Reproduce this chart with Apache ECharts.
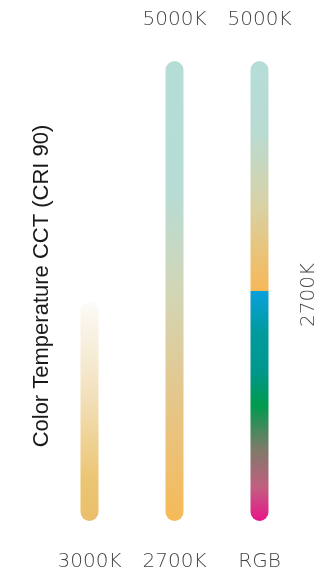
<!DOCTYPE html>
<html>
<head>
<meta charset="utf-8">
<script src="https://cdn.jsdelivr.net/npm/echarts@6/dist/echarts.min.js"></script>
<style>
html,body{margin:0;padding:0;background:#fff;}
#chart{width:324px;height:577px;}
</style>
</head>
<body>
<div id="chart"></div>
<script>
// Data
var categories = ['3000K', '2700K', 'RGB'];
var topLabels = ['', '5000K', '5000K'];
var lowerSegment = [47.6, 100, 50];   // lower part of each bar
var upperSegment = [0, 0, 50];        // upper (2700K→5000K) part of RGB bar
var yAxisTitle = 'Color Temperature CCT (CRI 90)';
var splitLabel = '2700K';

function grad(stops) {
  return new echarts.graphic.LinearGradient(0, 0, 0, 1, stops.map(function (s) { return { offset: s[0], color: s[1] }; }));
}

var lowerStyles = [
  { color: grad([[0, 'rgba(250,244,232,0.3)'], [0.12, '#f9f3e6'], [0.45, '#f2dfb8'], [0.8, '#ebc674'], [1, '#ebbf6a']]), borderRadius: 9 },
  { color: grad([[0, '#b5ddd8'], [0.28, '#b6dcd5'], [0.5, '#d2d6b6'], [0.72, '#e4c78e'], [1, '#f6ba58']]), borderRadius: 9 },
  { color: grad([[0, '#0aa0dc'], [0.18, '#009b9e'], [0.35, '#00978c'], [0.5, '#009a4e'], [0.68, '#7a7c68'], [0.85, '#c0607f'], [1, '#e8168a']]), borderRadius: [0, 0, 9, 9] }
];
var upperStyles = [
  {}, {},
  { color: grad([[0, '#b5ddd8'], [0.3, '#b8dbd3'], [0.62, '#d8d2a6'], [1, '#f6b858']]), borderRadius: [9, 9, 0, 0] }
];

var textFont = { fontFamily: 'DejaVu Sans', fontWeight: 200, fontSize: 20, color: '#454545' };

var chart = echarts.init(document.getElementById('chart'), null, { renderer: 'canvas' });
chart.setOption({
  animation: false,
  grid: { left: 47, right: 22, top: 61, bottom: 56 },
  xAxis: [
    {
      type: 'category', data: categories, position: 'bottom',
      axisLine: { show: false }, axisTick: { show: false },
      axisLabel: Object.assign({ margin: 31 }, textFont)
    },
    {
      type: 'category', data: topLabels, position: 'top',
      axisLine: { show: false }, axisTick: { show: false },
      axisLabel: Object.assign({ margin: 31 }, textFont)
    }
  ],
  yAxis: {
    type: 'value', min: 0, max: 100,
    show: false
  },
  series: [
    {
      type: 'bar', stack: 'a', barWidth: 18,
      data: lowerSegment.map(function (v, i) { return { value: v, itemStyle: lowerStyles[i] }; })
    },
    {
      type: 'bar', stack: 'a', barWidth: 18,
      data: upperSegment.map(function (v, i) { return { value: v, itemStyle: upperStyles[i] }; })
    }
  ],
  graphic: [
    {
      type: 'text', x: 42, y: 286, rotation: Math.PI / 2,
      style: { text: yAxisTitle, fontFamily: 'Liberation Sans', fontSize: 22, fill: '#1a1a1a', align: 'center', verticalAlign: 'middle' }
    },
    {
      type: 'text', x: 309, y: 295, rotation: Math.PI / 2,
      style: { text: splitLabel, fontFamily: 'DejaVu Sans', fontWeight: 200, fontSize: 20, fill: '#454545', align: 'center', verticalAlign: 'middle' }
    }
  ]
});
</script>
</body>
</html>
